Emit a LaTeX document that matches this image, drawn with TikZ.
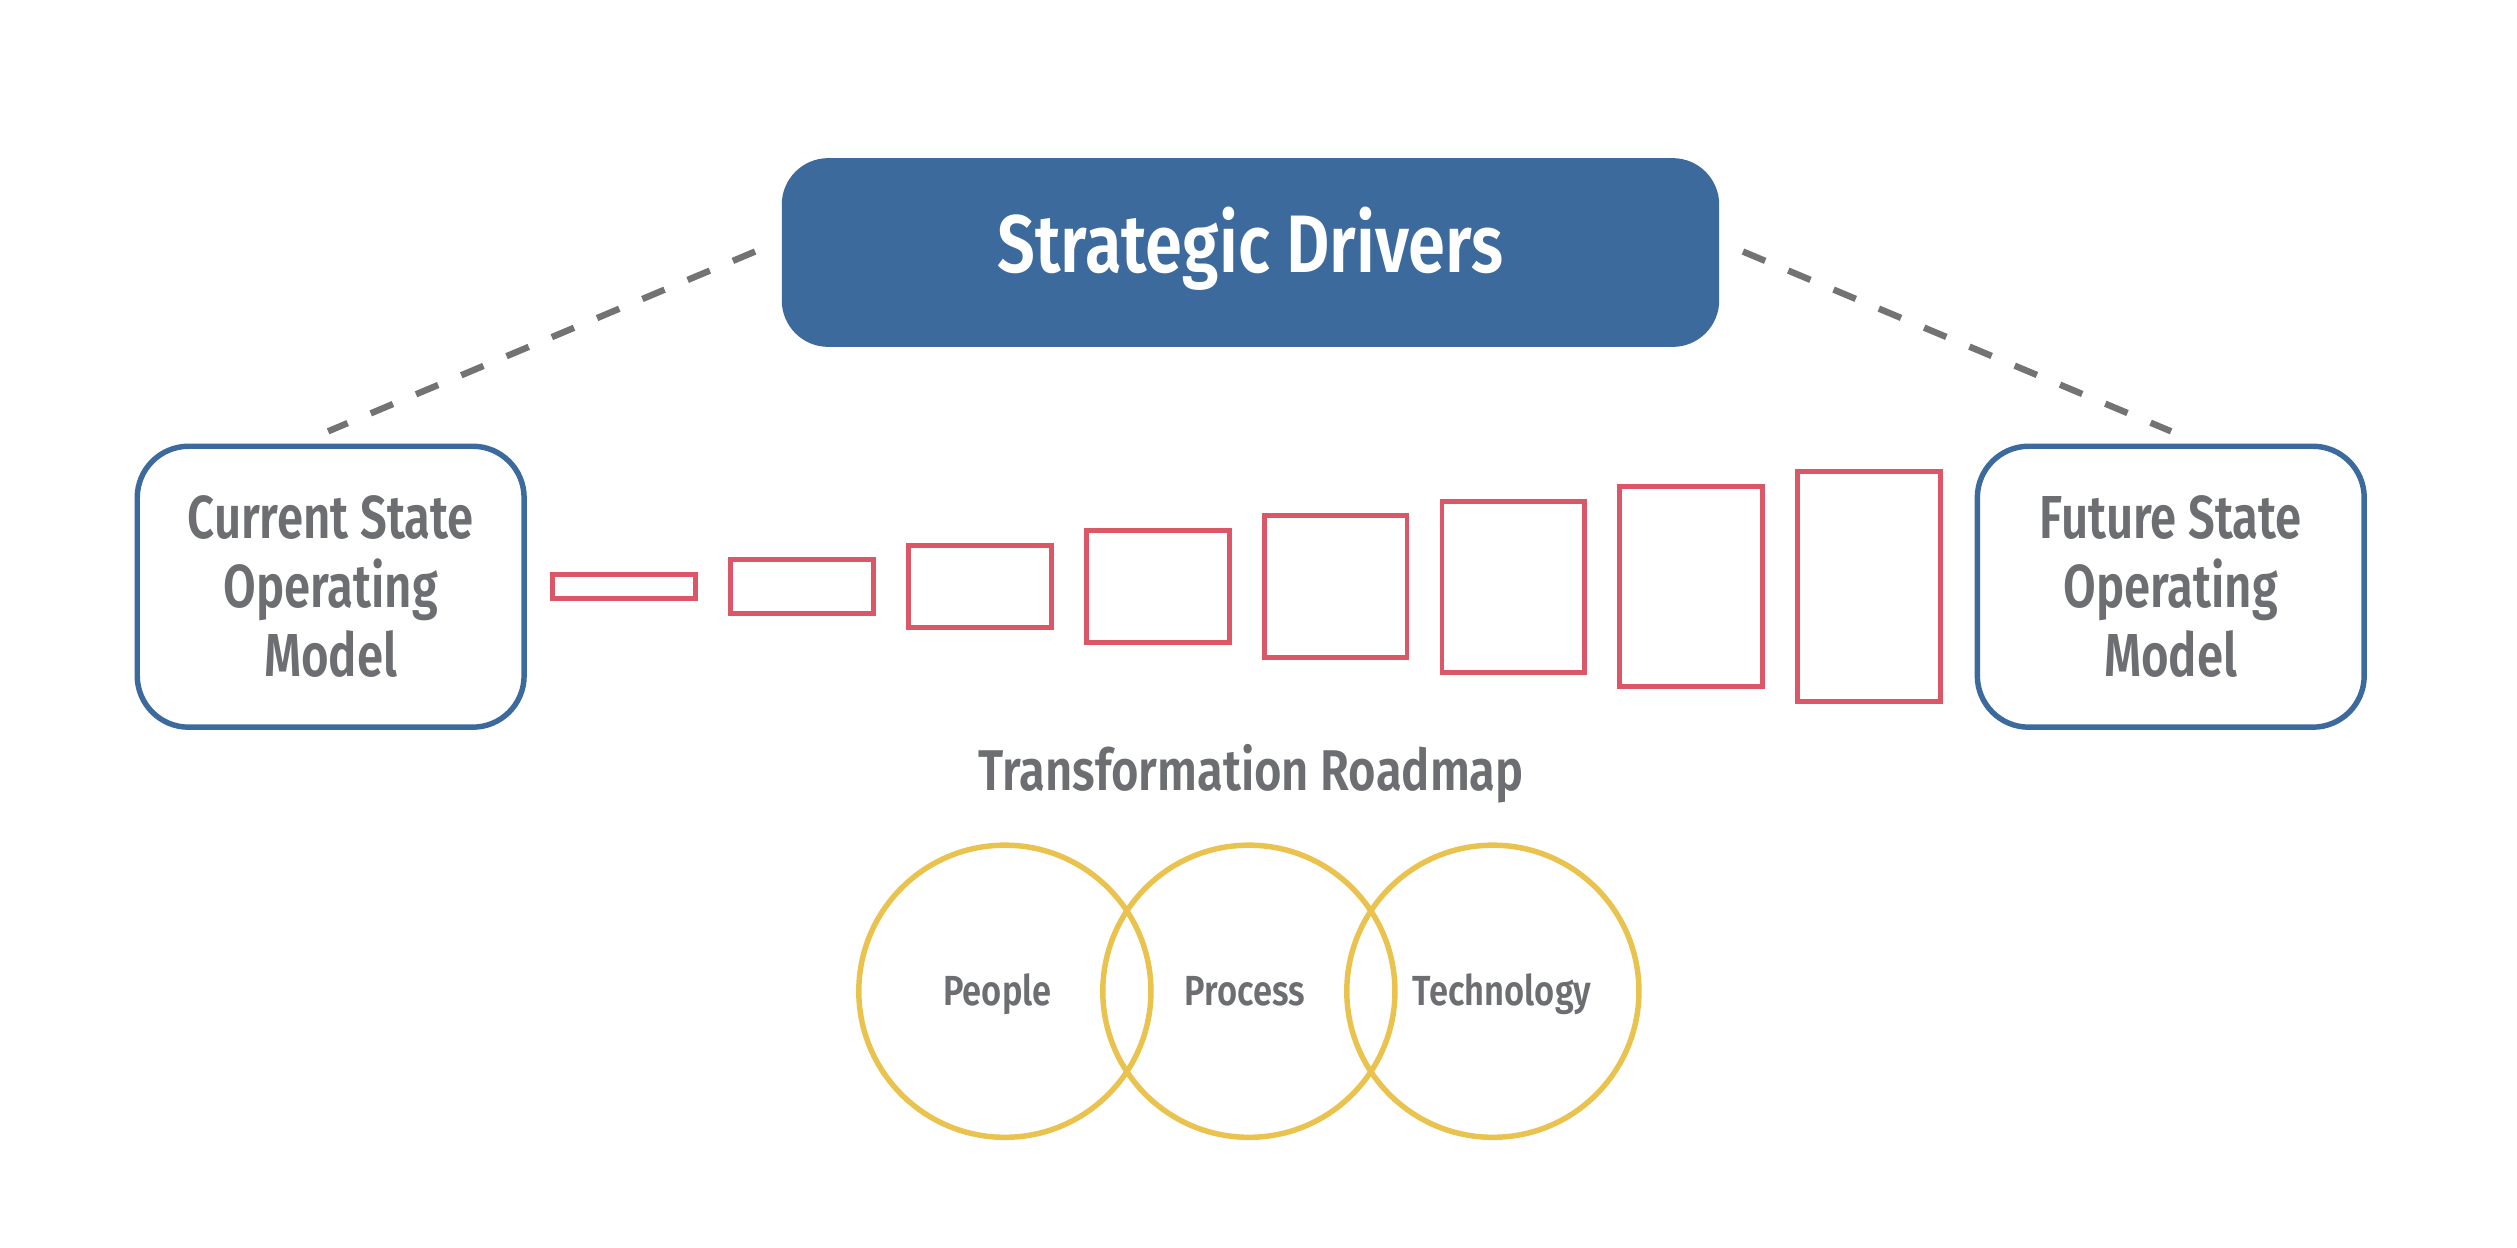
\documentclass[tikz,border=0pt]{standalone}
\usepackage{fontspec}
\setmainfont{Fira Sans SemiBold}[FakeStretch=0.82]
\newfontfamily\narrowfont{Fira Sans SemiBold}[FakeStretch=0.78]
\usetikzlibrary{calc}
\definecolor{sdblue}{HTML}{3D6A9D}
\definecolor{stepred}{HTML}{DB5768}
\definecolor{ringgold}{HTML}{EAC24E}
\definecolor{txtgray}{HTML}{6D6E71}
\definecolor{dashgray}{HTML}{737373}
\tikzset{
  drivers/.style={fill=sdblue, draw=none, rounded corners=14.5pt, minimum width=292pt, minimum height=58.8pt,
    inner sep=0pt, text=white, font=\fontsize{25.4}{28}\selectfont, text height=17.5pt, text depth=5.2pt},
  statebox/.style={draw=sdblue, line width=1.7pt, fill=white, rounded corners=16pt, minimum width=120.5pt,
    minimum height=87.5pt, inner sep=0pt, align=center, text=txtgray, font=\narrowfont\fontsize{18.9}{21.5}\selectfont,
    text height=56pt, text depth=0pt},
  steprect/.style={draw=stepred, line width=1.55pt, minimum width=44.5pt, inner sep=0pt},
  ring/.style={draw=ringgold, line width=1.7pt, circle, minimum size=91pt, inner sep=0pt},
  ringtext/.style={text=txtgray, font=\fontsize{13.1}{15}\selectfont, text height=8.9pt, text depth=0pt, inner sep=0pt},
  title/.style={text=txtgray, font=\fontsize{17.9}{20}\selectfont, text height=12.3pt, text depth=0pt, inner sep=0pt},
  dashline/.style={draw=dashgray, line width=2pt, dash pattern=on 7.5pt off 7.8pt},
}
\begin{document}
\begin{tikzpicture}[x=0.5pt,y=-0.5pt]
\useasboundingbox[fill=white] (0,0) rectangle (1568,777);
% top driver box
\node[drivers] (sd) at (779,157.3) {Strategic Drivers};
% state boxes
\node[statebox] (cur) at (206,365.5) {Current State\\Operating\\Model};
\node[statebox] (fut) at (1352.3,365.5) {Future State\\Operating\\Model};
% dashed connectors
\draw[dashline] ($(sd.west)+(-16.2,-0.6)$) -- ($(cur.north)+(-1.6,-7.6)$);
\draw[dashline] ($(sd.east)+(14.4,-0.6)$) -- ($(fut.north)+(0.2,-7.6)$);
% growing steps
\foreach \i in {0,...,7}{
  \node[steprect, minimum height={7.5pt+9.15pt*\i}] (r\i) at ({388.8+110.8*\i},365.4) {};
}
% roadmap title
\node[title] (tr) at (779.5,480.3) {Transformation Roadmap};
% rings
\node[ring] (people) at (626,617.5) {};
\node[ring] (process) at (778,617.5) {};
\node[ring] (tech) at (930,617.5) {};
\node[ringtext] (peopleL) at ($(people)+(-4.6,0)$) {People};
\node[ringtext] (processL) at ($(process)+(-2.6,0)$) {Process};
\node[ringtext] (techL) at ($(tech)+(5.8,0)$) {Technology};
\end{tikzpicture}
\end{document}
